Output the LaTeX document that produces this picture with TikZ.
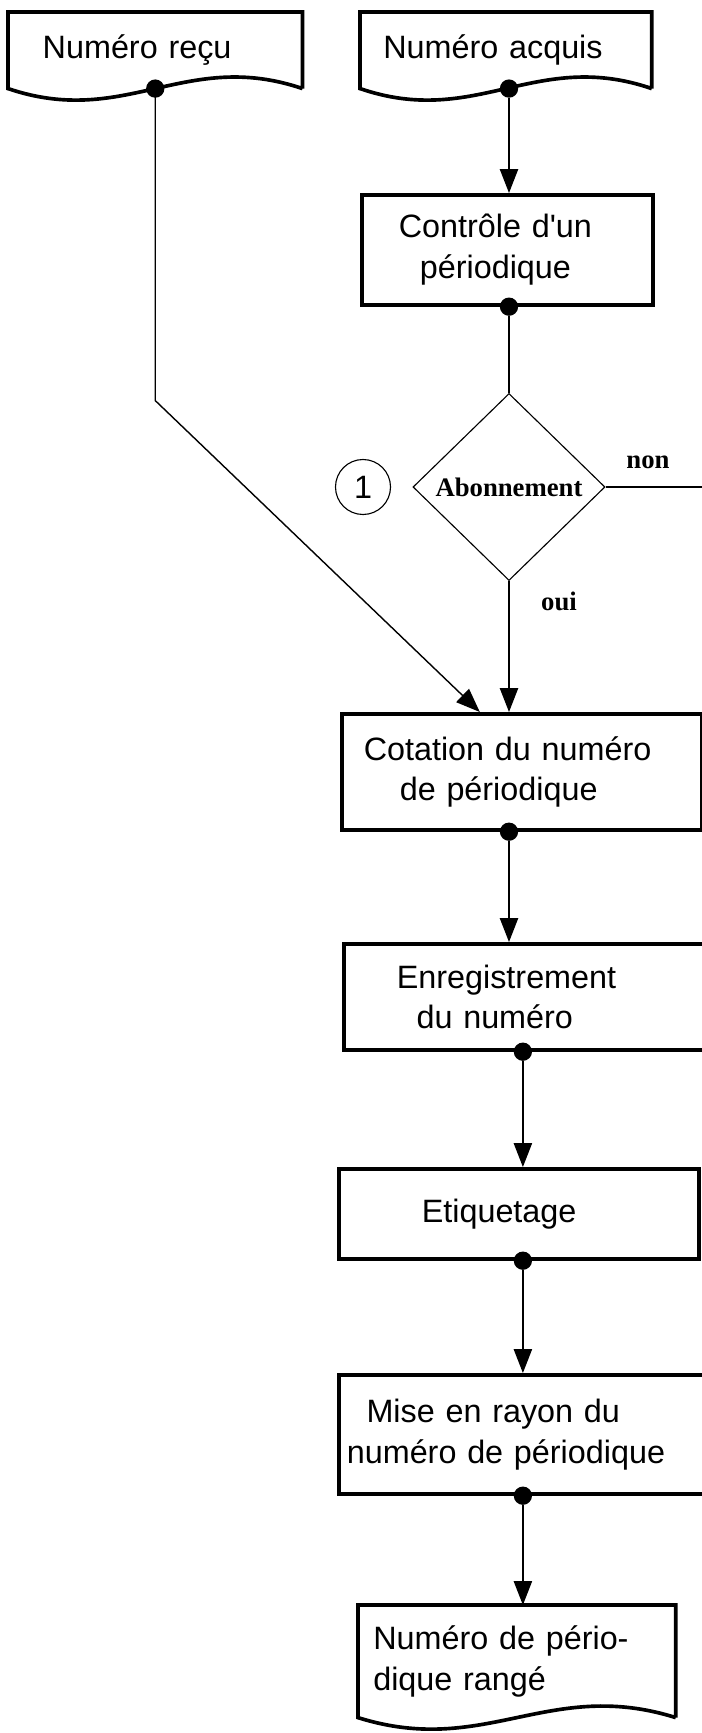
\documentclass[tikz,border=0pt]{standalone}
\usepackage{fontspec}
\setmainfont{Liberation Serif}
\newfontfamily\genevafont{Liberation Sans}
\usetikzlibrary{shapes.geometric, arrows.meta, calc}

% outline of a document box (wavy bottom edge)
\newcommand{\docoutline}[1]{%
	\draw[docline] (#1.south east) -- (#1.north east) -- (#1.north west) -- (#1.south west)
	.. controls ($(#1.south west)!0.4!(#1.south east)+(0,40)$) and ($(#1.south east)!0.4!(#1.south west)+(0,-40)$) .. (#1.south east);}

\begin{document}
\begin{tikzpicture}[x=0.025cm, y=-0.025cm, font=\genevafont\fontsize{23}{29}\selectfont]
		\tikzstyle{process} = [rectangle, anchor=north west, align=left, inner ysep=2pt, draw=black, line width=2.6pt]
		
		\tikzstyle{doc} = [rectangle, anchor=north west, align=left, inner ysep=2pt]
		
		\tikzstyle{decision} = [diamond, draw=black, line width=0.8pt, inner sep=0pt, minimum width=4.8cm, minimum height=4.675cm, font=\rmfamily\bfseries\fontsize{19}{22}\selectfont]
		
		\tikzstyle{answer} = [anchor=base, font=\rmfamily\bfseries\fontsize{19}{22}\selectfont]
		\tikzstyle{joint} = [circle, fill=black, inner sep=0pt, minimum size=13pt]
		\tikzstyle{docline} = [line width=2.6pt]
		\tikzstyle{link} = [line width=1pt]
		\tikzstyle{arrow} = [line width=1pt, -{Triangle[length=17pt, width=13pt]}]
		
		\useasboundingbox (0,0) rectangle (702,1733);
		
		% Begining of the creation of the figure
		\node (recu) [doc, text width=5.625cm, inner xsep=24.5pt, minimum height=1.9cm] at (8,12) {Numéro reçu};
		\node (acquis) [doc, text width=6.125cm, inner xsep=16.4pt, minimum height=1.9cm] at (360,12) {Numéro acquis};
		
		% Control and decision
		\node (ctrl) [process, text width=5.425cm, inner xsep=26.3pt, minimum height=2.75cm] at (360,193) {Contrôle d'un\\\hspace*{15pt}périodique};
		\node (abo) [decision] at (509,487) {Abonnement};
		\node (num) [circle, draw=black, line width=0.8pt, minimum size=1.375cm, inner sep=0pt] at (363,487) {1};
		\node (non) [answer] at (648,468) {non};
		\node (oui) [answer] at (559,610) {oui};
		
		% Processing steps
		\node (cot) [process, text width=7.9cm, inner xsep=15.6pt, minimum height=2.9cm] at (340,712) {Cotation du numéro\\\hspace*{25.6pt}de périodique};
		\node (enr) [process, text width=6.425cm, inner xsep=37.7pt, minimum height=2.65cm] at (342,942) {Enregistrement\\\hspace*{14pt}du numéro};
		\node (etiq) [process, text width=4.85cm, inner xsep=59pt, minimum height=2.25cm] at (337,1167) {Etiquetage};
		\node (mise) [process, text width=8.8cm, inner xsep=5.7pt, minimum height=2.975cm] at (337,1373) {\hspace*{14pt}Mise en rayon du\\numéro de périodique};
		\node (range) [doc, text width=7.175cm, inner xsep=10.7pt, minimum height=2.8cm] at (358,1605) {Numéro de pério-\\dique rangé};
		
		\docoutline{recu}
		\docoutline{acquis}
		\docoutline{range}
		
		% Joints
		\node (j0) [joint] at (recu.south) {};
		\node (j1) [joint] at (abo |- acquis.south) {};
		\node (j2) [joint] at (abo |- ctrl.south) {};
		\node (j3) [joint] at (abo |- cot.south) {};
		\node (j4) [joint] at (mise |- enr.south) {};
		\node (j5) [joint] at (mise |- etiq.south) {};
		\node (j6) [joint] at (mise.south) {};
		
		\coordinate (bend) at ($(recu.south)+(0,312)$);
		\coordinate (nonend) at (720,487);
		
		% Arrows
		\draw [arrow] (j0.center) -- (bend) -- ($(cot.north)+(-42,0)$);
		\draw [arrow] (j1) -- (abo |- ctrl.north);
		\draw [link] (j2) -- (abo.north);
		\draw [link] (abo.east) -- (nonend);
		\draw [arrow] (abo.south) -- (abo |- cot.north);
		\draw [arrow] (j3) -- (abo |- enr.north);
		\draw [arrow] (j4) -- (mise |- etiq.north);
		\draw [arrow] (j5) -- (mise.north);
		\draw [arrow] (j6) -- (mise |- range.north);
		\end{tikzpicture}
\end{document}
